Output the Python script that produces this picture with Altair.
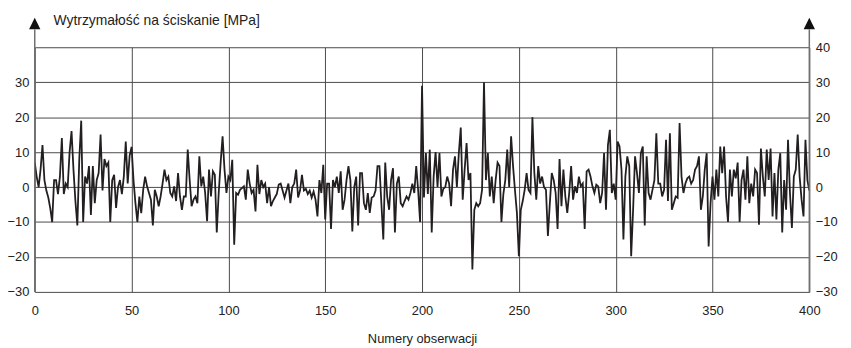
import altair as alt
import pandas as pd

obs_values = [
    7, 3, 0, 5, 12, 2, -1, -3, -6, -10,            # 0-9
    2, 2, -2, 3, 14, -2, 1, 0, 10, 16,             # 10-19
    5, -4, -11, 8, 19, -10, 3, 1, 6, -8,           # 20-29
    6, -4.6, 2, 4, 15, -1, 8, 6, 7, -10,           # 30-39
    2, 3.5, -6, 0, 2, -2, 3, 13, 1, 9,             # 40-49
    11.5, 2, -4.6, -10, -2.7, -7.5, -0.8, 3, 0.2, -1.7,   # 50-59
    -3.6, -11, -0.8, -2.7, -5.5, -2.7, 1, 5, 2, 3,        # 60-69
    -1.7, -2.7, 0.2, -4, 4, -2.7, -6.5, -2.7, -2.7, 10.7, # 70-79
    2, -5.5, -3.6, -2.7, -4.6, 8.8, 0.2, 3, -1.7, -9.8,   # 80-89
    5, -2.7, 4.5, 3.5, -13, -1.7, 7, 14.5, 5, -1.7,       # 90-99
    3, 2, 7.8, -16.5, -1.7, -2.2, -0.8, -0.3, 0.2, -3.6,  # 100-109
    5, 1, -1.7, -0.8, -7, 6.4, -2, 2, 0, 1,               # 110-119
    -4.6, 0, -5.5, -4, -3, -2, 0.7, 1, -1, -3,            # 120-129
    -1, 1, -4.6, 0, 1, 5, -3, -1, 3.5, -1,                # 130-139
    -0.5, -2, -1, -3, -1.3, -3.6, -8.4, 2, -1.7, 6.4,     # 140-149
    -9.3, 1, 1, -12, 2, 0, 3, -1.7, 4.5, -6.5,            # 150-159
    -3.6, 2, 6, 2, -12.7, 0, 3, -11, 4, 4,                # 160-169
    -4.6, -6.5, -1.7, -7.4, -3, -2.7, -1, 6, 6, -4.6,     # 170-179
    -15, 7, -2.7, -6.5, 2, 5.4, -13, 1, 3, -4.6,          # 180-189
    -5.5, -4, -2.7, -3.6, -1.7, 1, -1.7, 6, -1, -10,      # 190-199
    29, -3, 9.7, -2, 10.7, -13, 3, 10, 0, 9.7,            # 200-209
    -2.7, -0.5, 0, 3, 1, -5.5, 5, 8.8, 0, 9.7,            # 210-219
    17, -3.6, 5, 12.6, 2, 4, -23.6, -6.5, -4.6, -5.5,     # 220-229
    -4.6, -0.8, 30, 2, 9.7, -2.7, 3, -4.6, 2, 7,          # 230-239
    6, -10, -2, 2, 10.7, 0, 14.5, 6, -1, -7.4,            # 240-249
    -19.8, -6.5, -4, -0.8, 4, -0.8, -1.7, 20, 4, -3.6,    # 250-259
    6, 1, 3, 0, -0.8, -14, -4.6, 4, 2, -1.7,              # 260-269
    -12, 8, -5.5, 5, -2.7, -7.4, -1.7, 6, -3.6, 0.2,      # 270-279
    -1.7, 3, 0.2, 1, -12, 4.5, 5, 3, 0.2, -1.7,           # 280-289
    0.7, 0.2, -4.6, -1.7, 9.7, -6.5, 12, 16.4, -1.7, 1,   # 290-299
    -3.6, 13, 11.6, 5, -15, 3, 8.8, 6, -19.8, -6.5,       # 300-309
    8.8, 4, -1.7, 9.7, 11.6, -11, 8.8, -1.7, -3.6, -0.8,  # 310-319
    2, 15.4, 1, 1, -2.7, -0.8, 13.5, -4, 15.4, -6.5,      # 320-329
    -4.6, -2.7, -3.1, 18.3, 3, -1.7, 1, 2.5, 3, 1,        # 330-339
    2, 5, 6, 8.8, -6.5, -2.7, 5, 9.7, -17, -4.6,          # 340-349
    3, -3.6, 5, -2.7, 11.6, 4, 11.6, -2.7, -10, 5,        # 350-359
    -2.7, 5, 2.5, 7, -10, 2, 5, -3.6, 8.8, -4.6,          # 360-369
    1, -2.7, 5, 4, -10.8, 11, 3, -2.7, 10.7, 2,           # 370-379
    11, -8.4, 4, -9.3, 5, 9.7, -13, 2, -6.5, 13.5,        # 380-389
    -1.7, -11.7, 3, 5, 15, 3, -3.6, -8.4, 13.5, 2,        # 390-399
    -1,                                                   # 400
]

x_ticks = [0, 50, 100, 150, 200, 250, 300, 350, 400]
y_left_ticks = [-30, -20, -10, 0, 10, 20, 30]
y_right_ticks = [-30, -20, -10, 0, 10, 20, 30, 40]
y_title = "Wytrzymałość na ściskanie [MPa]"
x_title = "Numery obserwacji"

W, H = 782, 247
FONT = "Liberation Sans"
TXT = "#222222"
GRID = "#4a4a4a"
AXIS = "#707070"

df = pd.DataFrame({"obs": list(range(len(obs_values))), "val": obs_values})
one = pd.DataFrame({"k": [0]})

x_scale = alt.Scale(domain=[0, 400], nice=False, zero=False)
y_scale = alt.Scale(domain=[-30, 40], nice=False, zero=False)

x_axis = alt.Axis(values=x_ticks, grid=True, gridColor=GRID, gridWidth=1,
                  domain=False, ticks=False, labelPadding=13, labelFlush=False,
                  labelOverlap=False, labelFont=FONT, labelFontSize=13,
                  labelColor=TXT, title=x_title, titleFont=FONT,
                  titleFontSize=13, titleFontWeight="normal", titleColor=TXT,
                  titlePadding=15)

base = alt.Chart(df)
X = alt.X("obs:Q", scale=x_scale, axis=x_axis)

line = base.mark_line(color="#231f20", strokeWidth=1.8).encode(
    x=X,
    y=alt.Y("val:Q", scale=y_scale,
            axis=alt.Axis(values=y_left_ticks, grid=False, domain=False,
                          ticks=False, labelPadding=6, labelFlush=False,
                          labelOverlap=False, labelFont=FONT,
                          labelFontSize=13, labelColor=TXT, title=None)),
)

right = base.mark_line(opacity=0).encode(
    x=X,
    y=alt.Y("val:Q", scale=y_scale,
            axis=alt.Axis(orient="right", values=y_right_ticks, grid=True,
                          gridColor=GRID, gridWidth=1, domain=False,
                          ticks=False, labelPadding=6, labelFlush=False,
                          labelOverlap=False, labelFont=FONT,
                          labelFontSize=13, labelColor=TXT, title=None)),
)

ARROW = "M-1,1L0,-1L1,1Z"
deco = alt.Chart(one)
left_axis = deco.mark_rule(color=AXIS, strokeWidth=1.5).encode(
    x=alt.value(0), y=alt.value(-18), y2=alt.value(H))
right_axis = deco.mark_rule(color=AXIS, strokeWidth=1.5).encode(
    x=alt.value(W), y=alt.value(-18), y2=alt.value(H))
left_arrow = deco.mark_point(shape=ARROW, filled=True, color="#111",
                             size=130, opacity=1).encode(
    x=alt.value(0), y=alt.value(-24))
right_arrow = deco.mark_point(shape=ARROW, filled=True, color="#111",
                              size=130, opacity=1).encode(
    x=alt.value(W), y=alt.value(-24))
title_text = deco.mark_text(
    text=y_title, align="left", baseline="middle", font=FONT, fontSize=14,
    color=TXT).encode(x=alt.value(19), y=alt.value(-26))

chart = alt.layer(
    line, right, left_axis, right_axis, left_arrow, right_arrow, title_text
).resolve_axis(y="independent").properties(
    width=W, height=H,
    autosize=alt.AutoSizeParams(type="none"),
    padding={"left": 27, "top": 38, "right": 34, "bottom": 55},
).configure_view(stroke=None)

chart.save("out.html", embed_options={"renderer": "svg", "actions": False})
